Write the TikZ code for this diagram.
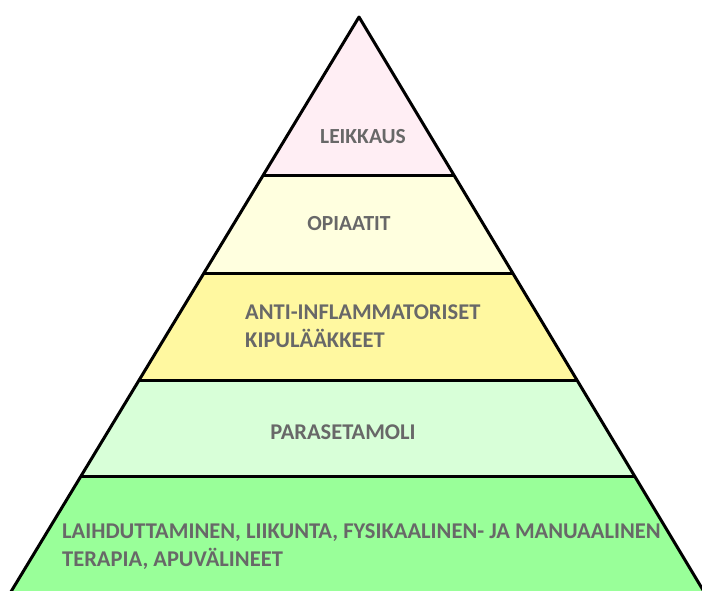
\documentclass[tikz,border=0pt]{standalone}
\usepackage{fontspec}
\setmainfont{Carlito}
\definecolor{bandA}{HTML}{FFEEF4}
\definecolor{bandB}{HTML}{FFFFDF}
\definecolor{bandC}{HTML}{FFF8A0}
\definecolor{bandD}{HTML}{D8FFD8}
\definecolor{bandE}{HTML}{99FF99}
\definecolor{txtgray}{HTML}{686868}
\tikzset{
  edge/.style={draw=black, line width=3pt, line cap=round, line join=round},
  lbl/.style={inner sep=0pt, text=txtgray, font=\bfseries\fontsize{22.5}{27.5}\selectfont},
  lblsmall/.style={lbl, font=\bfseries\fontsize{21.5}{27}\selectfont},
  lblleft/.style={lbl, align=left, anchor=base west},
}
\begin{document}
\begin{tikzpicture}[x=1pt, y=-1pt]
\useasboundingbox (0,0) rectangle (702,590);
\fill[white] (0,0) rectangle (702,590);
% coordinates on the sides
\coordinate (apex) at (359,17);
\coordinate (l1) at (263.3,175); \coordinate (r1) at (453.6,175);
\coordinate (l2) at (204.0,273); \coordinate (r2) at (512.2,273);
\coordinate (l3) at (139.2,380); \coordinate (r3) at (576.3,380);
\coordinate (l4) at (81.0,476);  \coordinate (r4) at (633.8,476);
\coordinate (l5) at (10.8,592);  \coordinate (r5) at (704.2,592);
% bands
\fill[bandA] (apex) -- (r1) -- (l1) -- cycle;
\fill[bandB] (l1) -- (r1) -- (r2) -- (l2) -- cycle;
\fill[bandC] (l2) -- (r2) -- (r3) -- (l3) -- cycle;
\fill[bandD] (l3) -- (r3) -- (r4) -- (l4) -- cycle;
\fill[bandE] (l4) -- (r4) -- (r5) -- (l5) -- cycle;
% outline
\draw[edge] (l5) -- (apex) -- (r5);
\draw[edge] (l1) -- (r1);
\draw[edge] (l2) -- (r2);
\draw[edge] (l3) -- (r3);
\draw[edge] (l4) -- (r4);
% labels
\node[lblsmall] (t1) at (363,137) {LEIKKAUS};
\node[lblsmall] (t2) at (349,224) {OPIAATIT};
\node[lblleft] (t3) at (245,347) {ANTI-INFLAMMATORISET\\KIPULÄÄKKEET};
\node[lbl] (t4) at (343,432) {PARASETAMOLI};
\node[lblleft] (t5) at (62,566) {LAIHDUTTAMINEN, LIIKUNTA, FYSIKAALINEN- JA MANUAALINEN\\TERAPIA, APUVÄLINEET};
\end{tikzpicture}
\end{document}
